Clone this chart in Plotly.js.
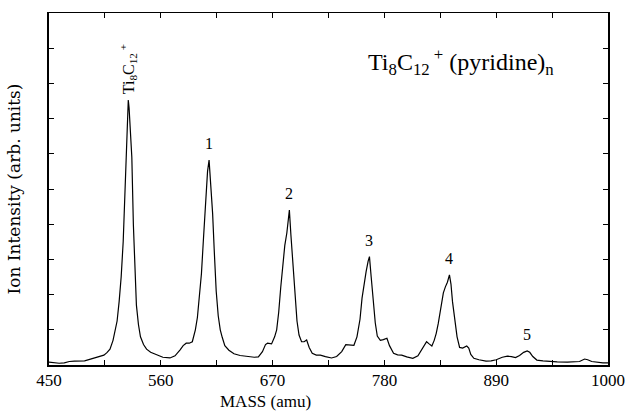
<!DOCTYPE html>
<html>
<head>
<meta charset="utf-8">
<script src="https://cdn.plot.ly/plotly-3.0.1.min.js"></script>
<style>html,body{margin:0;padding:0;background:#fff;}#chart{width:632px;height:411px;}</style>
</head>
<body>
<div id="chart"></div>
<script>
// Spectrum (mass in amu, intensity in arbitrary units)
const mass = [450,455,460,465,470,475,480,485,490,495,500,504,507,510,513,515,517,519,521,523,525,526.5,527.5,528,528.8,530,531.5,533,534.5,536,538,540,543,546,550,556,562,569,574,579,582,585,588,591,594,596,598,600,602,604,606,607.5,609,611,612.5,614.5,616.5,618.5,620.5,623,627,632,638,645,652,656,660,663,665,669,672,674,676,678,680,682,684,685.5,686.5,688,690,692,694,696,698.5,701,703.5,706,709,713,717,722,728,733,738,742,745,750,753,756,758,760,762,764,765.3,767,769,771,773,776,779,782.5,785,789,793,797,802,808,813,817,821.5,824,826.7,829,831,833,836,838,840,842,844,845.5,847,849.5,851.5,854,857,861,863,865,868,873,880,885,890,896,901,905,909,913,917,920.5,923,926,930,936,943,950,960,968,972,977,980,984,989,995,1000];
const intensity = [0.08,0.06,0.05,0.06,0.10,0.11,0.11,0.12,0.16,0.20,0.23,0.28,0.35,0.45,0.70,0.95,1.25,1.80,2.50,3.50,5.00,6.40,7.30,7.53,7.30,6.60,5.90,4.00,2.60,1.70,1.15,0.80,0.58,0.45,0.36,0.28,0.22,0.20,0.26,0.43,0.55,0.62,0.62,0.66,1.00,1.35,1.90,2.60,3.60,4.70,5.50,5.82,5.20,4.30,3.30,2.10,1.40,1.00,0.78,0.55,0.42,0.32,0.27,0.25,0.22,0.23,0.38,0.58,0.62,0.60,0.80,1.00,1.50,2.20,2.90,3.40,3.75,4.20,4.40,3.70,2.80,1.90,1.25,0.85,0.66,0.66,0.71,0.50,0.33,0.28,0.28,0.24,0.20,0.24,0.38,0.58,0.58,0.56,0.80,1.30,1.90,2.35,2.65,2.95,3.08,2.50,1.85,1.20,0.82,0.70,0.72,0.76,0.55,0.33,0.29,0.28,0.23,0.19,0.26,0.45,0.66,0.60,0.54,0.70,0.90,1.18,1.70,2.05,2.22,2.35,2.56,2.30,1.80,1.18,0.80,0.50,0.48,0.54,0.48,0.30,0.19,0.15,0.11,0.12,0.15,0.22,0.25,0.24,0.21,0.27,0.36,0.40,0.36,0.24,0.14,0.12,0.10,0.09,0.08,0.08,0.10,0.17,0.15,0.10,0.08,0.06,0.06];

// Peak labels
const peakMass = [528, 607.5, 686.5, 765.3, 844, 920.5];
const peakLabels = ['Ti<sub>8</sub>C<sub>12</sub><sup> +</sup>', '1', '2', '3', '4', '5'];

// Axis ticks
const xTickVals = [450,560,670,780,890,1000];
const xTickText = ['450','560','670','780','890','1000'];
const xMinorStep = 55;
const yTickStep = 1;

const chartTitle = 'Ti<sub>8</sub>C<sub>12</sub><sup> +</sup> (pyridine)<sub>n</sub>';
const xTitle = 'MASS (amu)';
const yTitle = 'Ion Intensity (arb. units)';

function heightAt(m) {
  let best = 0, d = Infinity;
  for (let i = 0; i < mass.length; i++) {
    const dd = Math.abs(mass[i] - m);
    if (dd < d) { d = dd; best = i; }
  }
  return intensity[best];
}

const serif = 'Liberation Serif, Times New Roman, serif';

const annotations = peakMass.map((m, i) => {
  if (i === 0) {
    return {
      x: m, y: heightAt(m), xref: 'x', yref: 'y',
      text: peakLabels[i], showarrow: false, textangle: -90,
      xanchor: 'center', yanchor: 'bottom', yshift: 4,
      font: {family: serif, size: 16, color: '#000'}
    };
  }
  return {
    x: m, y: heightAt(m), xref: 'x', yref: 'y',
    text: peakLabels[i], showarrow: false,
    xanchor: 'center', yanchor: 'bottom', yshift: 6,
    font: {family: serif, size: 16, color: '#000'}
  };
});

annotations.push({
  x: 0.737, y: 0.86, xref: 'paper', yref: 'paper',
  text: chartTitle, showarrow: false, xanchor: 'center', yanchor: 'middle',
  font: {family: serif, size: 24, color: '#000'}
});
annotations.push({
  x: 0.388, y: 0, xref: 'paper', yref: 'paper',
  text: xTitle, showarrow: false, xanchor: 'center', yanchor: 'middle', yshift: -36,
  borderpad: 0,
  font: {family: serif, size: 17, color: '#000'}
});

const trace = {
  x: mass, y: intensity, type: 'scatter', mode: 'lines',
  line: {color: '#000', width: 1.2},
  hoverinfo: 'skip'
};

const layout = {
  width: 632, height: 411,
  margin: {l: 49, r: 24, t: 13, b: 46},
  paper_bgcolor: '#fff', plot_bgcolor: '#fff',
  showlegend: false,
  xaxis: {
    range: [450, 1000], tickmode: 'array', tickvals: xTickVals, ticktext: xTickText,
    ticks: 'inside', ticklen: 5, tickwidth: 1, tickcolor: '#000',
    ticklabelstandoff: -1,
    minor: {tickmode: 'linear', tick0: 450, dtick: xMinorStep, ticks: 'inside', ticklen: 5, tickwidth: 1, tickcolor: '#000', showgrid: false},
    showline: true, linecolor: '#000', linewidth: 1.5, mirror: 'ticks',
    showgrid: false, zeroline: false,
    tickfont: {family: serif, size: 17, color: '#000'}
  },
  yaxis: {
    range: [0, 10], tickmode: 'linear', tick0: 0, dtick: yTickStep, showticklabels: false,
    ticks: 'inside', ticklen: 5, tickwidth: 1, tickcolor: '#000',
    showline: true, linecolor: '#000', linewidth: 1.8, mirror: 'ticks',
    showgrid: false, zeroline: false,
    title: {text: yTitle, standoff: 22, font: {family: 'DejaVu Serif, serif', size: 17, color: '#000'}}
  },
  annotations: annotations
};

Plotly.newPlot('chart', [trace], layout, {displayModeBar: false, staticPlot: true});
</script>
</body>
</html>
